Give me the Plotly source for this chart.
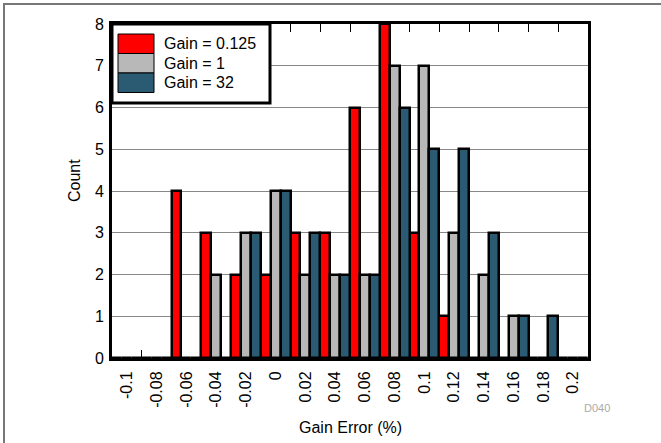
import plotly.graph_objects as go

# ---- data ----
bins = ["-0.1", "-0.08", "-0.06", "-0.04", "-0.02", "0", "0.02", "0.04",
        "0.06", "0.08", "0.1", "0.12", "0.14", "0.16", "0.18", "0.2"]
gain_0125 = [0, 0, 4, 3, 2, 2, 3, 3, 6, 8, 3, 1, 0, 0, 0, 0]
gain_1 = [0, 0, 0, 2, 3, 4, 2, 2, 2, 7, 7, 3, 2, 1, 0, 0]
gain_32 = [0, 0, 0, 0, 3, 4, 3, 2, 2, 6, 5, 5, 3, 1, 1, 0]
series_names = ["Gain = 0.125", "Gain = 1", "Gain = 32"]
series_colors = ["#FF0000", "#B8B8B8", "#2B5B73"]

W, H = 661, 443
L, R, T, B = 112, 588, 24, 358  # plot area in pixels


def px(x):
    return (x - L) / (R - L)


def py(y):
    return (B - y) / (B - T)


font = "Liberation Sans, Arial, sans-serif"

fig = go.Figure()
for name, vals, col in zip(series_names, [gain_0125, gain_1, gain_32], series_colors):
    fig.add_trace(go.Bar(x=bins, y=vals, name=name,
                         marker=dict(color=col, line=dict(color="black", width=2.5)),
                         showlegend=False))

shapes = []
annotations = []

# outer frame
shapes.append(dict(type="rect", xref="paper", yref="paper", x0=px(4), x1=px(700), y0=py(480), y1=py(4),
                   line=dict(color="#777777", width=2), fillcolor="rgba(0,0,0,0)", layer="below"))

# manual legend
shapes.append(dict(type="rect", xref="paper", yref="paper", x0=px(L), x1=px(270), y0=py(103), y1=py(T),
                   line=dict(color="black", width=3), fillcolor="white", layer="above"))
row_tops = [34, 53.5, 73]
row_h = 19.5
for i, (name, col) in enumerate(zip(series_names, series_colors)):
    y0 = row_tops[i]
    shapes.append(dict(type="rect", xref="paper", yref="paper", x0=px(118), x1=px(154),
                       y0=py(y0 + row_h), y1=py(y0), line=dict(color="black", width=1),
                       fillcolor=col, layer="above"))
    annotations.append(dict(text=name, xref="paper", yref="paper", x=px(162), y=py(y0 + row_h / 2),
                            xanchor="left", yanchor="middle", showarrow=False,
                            font=dict(size=16, color="black", family=font)))

annotations.append(dict(text="Gain Error (%)", xref="paper", yref="paper", x=0.5, y=py(427),
                        xanchor="center", yanchor="middle", showarrow=False,
                        font=dict(size=16, color="black", family=font)))
annotations.append(dict(text="Count", xref="paper", yref="paper", x=px(74), y=py(181), textangle=-90,
                        xanchor="center", yanchor="middle", showarrow=False,
                        font=dict(size=16, color="black", family=font)))
annotations.append(dict(text="D040", xref="paper", yref="paper", x=px(597), y=py(408),
                        xanchor="center", yanchor="middle", showarrow=False,
                        font=dict(size=11, color="#AAAAAA", family=font)))

fig.update_layout(
    width=W, height=H,
    margin=dict(l=L, r=W - R, t=T, b=H - B, pad=0),
    paper_bgcolor="white", plot_bgcolor="white",
    barmode="group", bargap=0, bargroupgap=0,
    font=dict(family=font, size=16, color="black"),
    shapes=shapes, annotations=annotations,
    xaxis=dict(type="category", categoryorder="array", categoryarray=bins,
               range=[-0.5, len(bins) - 0.5], tickangle=-90, tickson="boundaries",
               ticks="inside", ticklen=8, tickcolor="black", tickwidth=1,
               showline=True, linecolor="black", linewidth=3, mirror="ticks",
               showgrid=False, tickfont=dict(size=16), ticklabelstandoff=4),
    yaxis=dict(range=[0, 8], dtick=1, showline=True, linecolor="black", linewidth=3, mirror=True,
               showgrid=True, gridcolor="#888888", gridwidth=1, ticks="", zeroline=False,
               tickfont=dict(size=16), ticklabelstandoff=2),
)

fig.write_html("out.html", config={"displayModeBar": False},
               post_script="document.body.style.margin='0';")
